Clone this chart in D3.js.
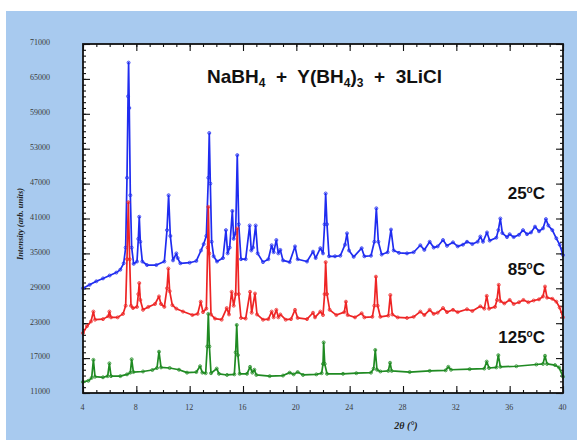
<!DOCTYPE html>
<html>
<head>
<meta charset="utf-8">
<script src="https://cdn.jsdelivr.net/npm/d3@7"></script>
<style>
  html, body { margin: 0; padding: 0; background: #ffffff; }
  svg { display: block; }
</style>
</head>
<body>
<script>
// X-ray diffraction patterns of NaBH4 + Y(BH4)3 + 3LiCl at three temperatures.
// Each point: [2θ in degrees, intensity in counts].

const pattern25 = [
  [4.0, 29000], [4.5, 29600], [5.0, 30200], [5.5, 30700], [6.0, 31200], [6.5, 31700], [6.8, 32200],
  [7.05, 33300], [7.2, 36000], [7.3, 48000], [7.38, 62000], [7.42, 67800], [7.47, 60000], [7.55, 45000],
  [7.65, 36000], [7.8, 33200], [8.05, 33600], [8.15, 37500], [8.22, 41300], [8.3, 37000], [8.45, 33600],
  [8.8, 33000], [9.5, 33000], [10.1, 33600], [10.3, 39000], [10.42, 45000], [10.55, 38000], [10.75, 33800],
  [11.0, 35000], [11.1, 34200], [11.3, 33300], [12.0, 33400], [12.5, 33700], [12.85, 35500], [13.05, 36600],
  [13.25, 38000], [13.4, 48000], [13.47, 55700], [13.55, 47000], [13.65, 37000], [13.8, 34500], [14.05, 33600],
  [14.5, 34200], [14.72, 39000], [14.85, 35000], [15.0, 36000], [15.2, 42300], [15.3, 37500], [15.45, 38500],
  [15.57, 51900], [15.68, 40000], [15.85, 34000], [16.2, 34000], [16.5, 39800], [16.62, 35500], [16.75, 36000],
  [16.95, 39800], [17.1, 35000], [17.5, 33500], [17.9, 34000], [18.15, 36400], [18.3, 35200], [18.5, 37300],
  [18.65, 35000], [18.8, 35600], [19.0, 33800], [19.5, 33500], [19.9, 36200], [20.1, 34000], [20.8, 33600],
  [21.25, 35300], [21.45, 34200], [21.8, 35900], [22.0, 35000], [22.12, 40000], [22.2, 45300], [22.3, 40000],
  [22.45, 34500], [22.9, 34500], [23.3, 34600], [23.65, 36500], [23.8, 38450], [23.95, 35500], [24.3, 34400],
  [24.9, 35900], [25.1, 34500], [25.6, 34600], [25.85, 37000], [26.0, 42750], [26.15, 37000], [26.4, 34800],
  [26.85, 35200], [27.1, 39100], [27.3, 35500], [27.7, 35100], [28.3, 35000], [28.8, 35200], [29.3, 36400],
  [29.6, 35600], [30.0, 37000], [30.3, 36000], [30.6, 36200], [31.0, 37300], [31.3, 36300], [31.75, 36900],
  [32.1, 36200], [32.5, 36500], [32.8, 37000], [33.2, 36600], [33.6, 37000], [33.8, 37900], [34.0, 37000],
  [34.3, 38600], [34.5, 37200], [35.0, 37700], [35.15, 39000], [35.3, 41000], [35.45, 38500], [35.8, 37800],
  [36.0, 38300], [36.3, 37800], [36.7, 38200], [37.0, 39000], [37.3, 38300], [37.6, 38600], [37.9, 39600],
  [38.2, 38800], [38.5, 39300], [38.72, 40900], [38.9, 39800], [39.2, 39000], [39.5, 37600], [39.75, 36500],
  [40.0, 34700]
];

const pattern85 = [
  [4.0, 21300], [4.3, 22500], [4.6, 23300], [4.78, 25000], [4.9, 23600], [5.5, 23700], [5.9, 24200],
  [5.98, 25000], [6.1, 24000], [6.6, 24000], [7.0, 24600], [7.2, 26000], [7.3, 34000], [7.4, 43800],
  [7.5, 34000], [7.6, 26000], [7.75, 25600], [8.05, 25800], [8.15, 28000], [8.22, 29900], [8.3, 27000],
  [8.5, 25300], [8.9, 25800], [9.4, 26300], [9.7, 27600], [9.85, 26300], [10.1, 25800], [10.3, 29000],
  [10.4, 32400], [10.5, 28500], [10.7, 26100], [11.0, 25500], [11.5, 25000], [12.2, 24400], [12.6, 24600],
  [12.83, 26700], [13.0, 24900], [13.25, 25500], [13.35, 36000], [13.4, 43000], [13.47, 35000], [13.6, 24500],
  [13.9, 23800], [14.4, 23600], [14.78, 25600], [14.95, 24500], [15.15, 28400], [15.3, 26000], [15.45, 28000],
  [15.57, 39300], [15.68, 28000], [15.85, 23900], [16.2, 23800], [16.53, 28400], [16.65, 24800], [16.9, 28100],
  [17.05, 24500], [17.5, 23600], [17.9, 23700], [18.15, 25000], [18.3, 24000], [18.5, 25300], [18.65, 24000],
  [18.8, 24500], [19.2, 23600], [19.6, 23700], [19.9, 25300], [20.1, 23900], [20.8, 23700], [21.25, 24800],
  [21.4, 24000], [21.8, 25000], [22.0, 24400], [22.12, 28000], [22.2, 33500], [22.3, 28000], [22.5, 25300],
  [23.0, 24400], [23.6, 24900], [23.72, 26700], [23.85, 24400], [24.4, 24000], [24.9, 24700], [25.1, 24000],
  [25.7, 24100], [25.85, 26000], [25.97, 31000], [26.1, 26000], [26.3, 24100], [26.9, 24300], [27.05, 27850],
  [27.2, 24500], [27.6, 24000], [28.3, 23900], [28.8, 24100], [29.3, 25000], [29.6, 24400], [30.0, 25300],
  [30.3, 24600], [30.6, 24800], [31.0, 25600], [31.3, 24900], [31.75, 25300], [32.1, 24900], [32.8, 25400],
  [33.2, 25100], [33.8, 25900], [34.1, 25500], [34.28, 27700], [34.45, 25500], [34.9, 25800], [35.05, 27000],
  [35.18, 29600], [35.3, 26800], [35.6, 26400], [36.0, 27000], [36.3, 26300], [36.7, 26600], [37.03, 27000],
  [37.4, 26600], [37.8, 26900], [38.2, 27100], [38.5, 27600], [38.65, 29300], [38.8, 27400], [39.2, 27200],
  [39.5, 26700], [39.75, 25700], [40.0, 24000]
];

const pattern125 = [
  [4.0, 12900], [4.4, 13100], [4.65, 13600], [4.78, 16700], [4.9, 13800], [5.5, 13700], [5.85, 13900],
  [5.98, 16100], [6.1, 13900], [6.8, 13900], [7.3, 14200], [7.55, 14500], [7.65, 16800], [7.78, 14600],
  [8.5, 14700], [9.2, 14950], [9.55, 15300], [9.7, 18100], [9.85, 15400], [10.5, 15300], [11.2, 15000],
  [11.8, 14500], [12.5, 14600], [12.78, 15600], [12.95, 14500], [13.2, 14400], [13.32, 19000], [13.4, 24600],
  [13.48, 19000], [13.6, 14400], [14.03, 15200], [14.2, 14300], [14.8, 14100], [15.35, 14200], [15.45, 18000],
  [15.53, 22700], [15.62, 17500], [15.75, 14300], [16.3, 14300], [16.53, 15500], [16.7, 14500], [16.85, 15000],
  [17.0, 14100], [18.0, 13900], [19.0, 14000], [19.5, 14500], [19.8, 14200], [20.1, 14600], [20.5, 14100],
  [21.5, 14200], [21.9, 14400], [22.0, 16000], [22.05, 19700], [22.13, 16000], [22.3, 14300], [23.5, 14300],
  [24.5, 14400], [25.6, 14500], [25.8, 15200], [25.92, 18400], [26.05, 15000], [26.3, 14700], [26.9, 14800],
  [27.03, 16200], [27.15, 14800], [28.5, 14600], [30.0, 14800], [31.2, 14900], [31.4, 15500], [31.6, 15000],
  [33.0, 15100], [34.1, 15200], [34.28, 16400], [34.45, 15300], [35.0, 15400], [35.15, 17500], [35.3, 15500],
  [36.5, 15600], [38.0, 15900], [38.5, 16000], [38.65, 17400], [38.8, 16000], [39.4, 15800], [39.7, 15400],
  [40.0, 13800]
];

const xTicks = [4, 8, 12, 16, 20, 24, 28, 32, 36, 40];
const yTicks = [11000, 17000, 23000, 29000, 35000, 41000, 47000, 53000, 59000, 65000, 71000];
const temperatureLabels = ["25", "85", "125"];

const W = 577, H = 440;
const plot = { left: 83, right: 563, top: 44, bottom: 393 };

const svg = d3.select("body").append("svg")
  .attr("width", W).attr("height", H);

// light blue slide background
svg.append("rect").attr("x", 6).attr("y", 11).attr("width", W - 6).attr("height", H - 11)
  .attr("fill", "#a8caef");

// plot panel
svg.append("rect")
  .attr("x", plot.left).attr("y", plot.top)
  .attr("width", plot.right - plot.left).attr("height", plot.bottom - plot.top)
  .attr("fill", "#ffffff");

const x = d3.scaleLinear().domain([4, 40]).range([plot.left, plot.right]);
const y = d3.scaleLinear().domain([11000, 71000]).range([plot.bottom, plot.top]);

const tickFont = "'Liberation Serif', 'Times New Roman', serif";

// minor ticks on all four sides
const xMinor = d3.range(4, 41, 1);
const yMinor = d3.range(11000, 71001, 1000);
function styleAxis(g) {
  g.select(".domain").remove();
  g.selectAll(".tick line").attr("stroke", "#111").attr("stroke-width", 1.1);
}
svg.append("g").attr("transform", `translate(0,${plot.bottom})`)
  .call(d3.axisBottom(x).tickValues(xMinor).tickSize(-3).tickFormat(""))
  .call(styleAxis);
svg.append("g").attr("transform", `translate(0,${plot.top})`)
  .call(d3.axisTop(x).tickValues(xMinor).tickSize(-3).tickFormat(""))
  .call(styleAxis);
svg.append("g").attr("transform", `translate(${plot.left},0)`)
  .call(d3.axisLeft(y).tickValues(yMinor).tickSize(-3).tickFormat(""))
  .call(styleAxis);
svg.append("g").attr("transform", `translate(${plot.right},0)`)
  .call(d3.axisRight(y).tickValues(yMinor).tickSize(-3).tickFormat(""))
  .call(styleAxis);

// major ticks with labels
const gx = svg.append("g").attr("transform", `translate(0,${plot.bottom})`)
  .call(d3.axisBottom(x).tickValues(xTicks).tickSizeInner(-7).tickSizeOuter(0).tickPadding(11)
    .tickFormat(d3.format("d")))
  .call(styleAxis);
gx.selectAll(".tick text").attr("font-family", tickFont).attr("font-size", 8)
  .attr("fill", "#3a3a3a").attr("dx", -1);

const gy = svg.append("g").attr("transform", `translate(${plot.left},0)`)
  .call(d3.axisLeft(y).tickValues(yTicks).tickSizeInner(-7).tickSizeOuter(0).tickPadding(33)
    .tickFormat(d3.format("d")))
  .call(styleAxis);
gy.selectAll(".tick text").attr("font-family", tickFont).attr("font-size", 8)
  .attr("fill", "#3a3a3a").attr("dy", "0.1em");

svg.append("g").attr("transform", `translate(0,${plot.top})`)
  .call(d3.axisTop(x).tickValues(xTicks).tickSizeInner(-7).tickSizeOuter(0).tickFormat(""))
  .call(styleAxis);
svg.append("g").attr("transform", `translate(${plot.right},0)`)
  .call(d3.axisRight(y).tickValues(yTicks).tickSizeInner(-7).tickSizeOuter(0).tickFormat(""))
  .call(styleAxis);

// diffraction traces
const line = d3.line().x(d => x(d[0])).y(d => y(d[1]));
const series = [
  { data: pattern25, color: "#1f2cf0" },
  { data: pattern85, color: "#ee2424" },
  { data: pattern125, color: "#1f8a22" }
];
series.forEach(s => {
  svg.append("path").datum(s.data)
    .attr("d", line).attr("fill", "none")
    .attr("stroke", s.color).attr("stroke-width", 1.7).attr("stroke-linejoin", "round");
  svg.append("g").selectAll("circle").data(s.data).join("circle")
    .attr("cx", d => x(d[0])).attr("cy", d => y(d[1])).attr("r", 1.5)
    .attr("fill", "none").attr("stroke", s.color).attr("stroke-width", 0.8);
});

// frame
svg.append("rect")
  .attr("x", plot.left).attr("y", plot.top)
  .attr("width", plot.right - plot.left).attr("height", plot.bottom - plot.top)
  .attr("fill", "none").attr("stroke", "#111").attr("stroke-width", 1.8);

// title
const sans = "'Liberation Sans', Arial, sans-serif";
const title = svg.append("text").attr("x", 207).attr("y", 83)
  .attr("font-family", sans).attr("font-size", 19).attr("font-weight", "bold")
  .attr("fill", "#111").style("white-space", "pre");
title.append("tspan").text("NaBH");
title.append("tspan").attr("font-size", 12).attr("dy", 4).text("4");
title.append("tspan").attr("dy", -4).text("  +  Y(BH");
title.append("tspan").attr("font-size", 12).attr("dy", 4).text("4");
title.append("tspan").attr("dy", -4).text(")");
title.append("tspan").attr("font-size", 12).attr("dy", 4).text("3");
title.append("tspan").attr("dy", -4).text("  +  3LiCl");

// temperature labels
const labelPos = [
  { t: temperatureLabels[0], y: 199 },
  { t: temperatureLabels[1], y: 275 },
  { t: temperatureLabels[2], y: 343 }
];
labelPos.forEach(p => {
  const t = svg.append("text").attr("x", 545).attr("y", p.y).attr("text-anchor", "end")
    .attr("font-family", sans).attr("font-size", 17).attr("font-weight", "bold").attr("fill", "#111");
  t.append("tspan").text(p.t);
  t.append("tspan").attr("font-size", 10).attr("dy", -6).text("o");
  t.append("tspan").attr("dy", 6).text("C");
});

// axis titles
svg.append("text").attr("x", 406).attr("y", 429).attr("text-anchor", "middle")
  .attr("font-family", tickFont).attr("font-size", 10).attr("font-weight", "bold")
  .attr("font-style", "italic").attr("fill", "#222").text("2θ (°)");

svg.append("text").attr("transform", "translate(23,224) rotate(-90)").attr("text-anchor", "middle")
  .attr("font-family", tickFont).attr("font-size", 8.5).attr("font-weight", "bold")
  .attr("font-style", "italic").attr("fill", "#222").text("Intensity (arb. units)");
</script>
</body>
</html>
